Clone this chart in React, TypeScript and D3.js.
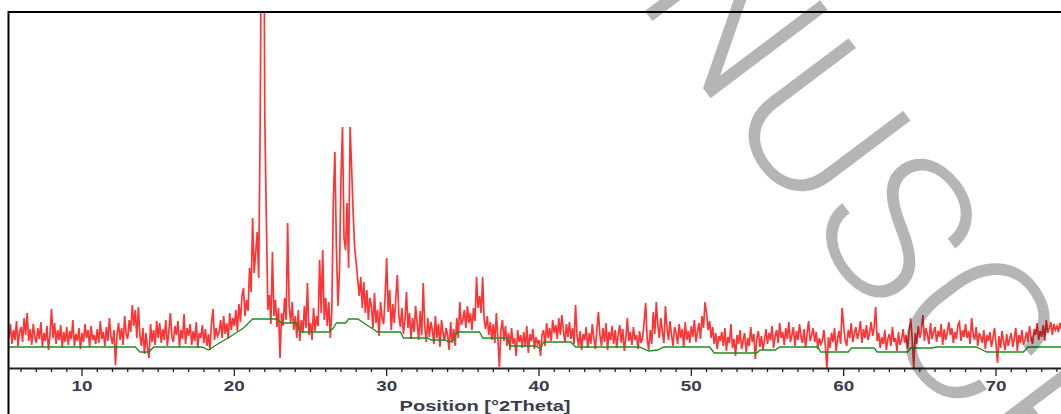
import React from "react";
import * as d3 from "d3";

// Scan start and step in °2Theta
const X_START = 5.2;
const X_STEP = 0.1;

const counts: number[] = [
  30, 44, 24, 38, 28, 47, 22, 36,
  41, 26, 50, 33, 55, 27, 39, 23, 44, 31,
  25, 40, 29, 46, 21, 35, 27, 42, 18, 33,
  59, 30, 45, 24, 38, 28, 43, 20, 36, 26,
  41, 23, 37, 29, 48, 22, 34, 27, 40, 19,
  35, 26, 44, 30, 38, 21, 42, 28, 33, 24,
  39, 25, 47, 29, 36, 22, 41, 27, 50, 31,
  24, 38, 3, 33, 45, 28, 40, 23, 52, 34,
  29, 48, 36, 63, 42, 58, 30, 61, 33, 22,
  40, 14, 35, 20, 10, 44, 26, 38, 23, 47,
  30, 45, 25, 39, 28, 48, 22, 36, 55, 31,
  26, 42, 33, 47, 21, 38, 29, 54, 24, 40,
  32, 44, 23, 37, 27, 46, 20, 35, 30, 43,
  25, 39, 22, 34, 18, 45, 59, 28, 40, 32,
  36, 48, 30, 52, 34, 45, 29, 55, 38, 50,
  42, 58, 37, 64, 46, 72, 80, 52, 68, 57,
  100, 76, 150, 95, 115, 136, 90, 250, 520, 600,
  250, 150, 58, 73, 44, 116, 52, 68, 41, 60,
  10, 55, 42, 70, 48, 145, 62, 45, 66, 38,
  52, 30, 58, 27, 48, 35, 62, 40, 85, 33,
  45, 28, 60, 37, 52, 42, 108, 55, 118, 48,
  70, 42, 66, 30, 58, 168, 216, 120, 62, 95,
  190, 241, 130, 118, 165, 100, 241, 200, 155, 120,
  105, 88, 72, 91, 60, 86, 55, 78, 48, 70,
  62, 40, 75, 45, 58, 32, 66, 50, 44, 72,
  110, 56, 78, 38, 64, 45, 70, 93, 52, 41,
  60, 34, 48, 76, 40, 55, 29, 50, 36, 62,
  45, 28, 57, 33, 85, 42, 26, 50, 31, 46,
  38, 24, 52, 30, 44, 21, 48, 35, 27, 40,
  33, 18, 46, 25, 39, 22, 50, 30, 66, 43,
  48, 58, 40, 62, 45, 55, 38, 60, 47, 91,
  60, 72, 55, 91, 48, 39, 52, 33, 46, 28,
  44, 25, 55, 30, 1, 38, 48, 27, 42, 22,
  35, 18, 40, 24, 30, 12, 38, 26, 33, 20,
  36, 21, 42, 15, 34, 27, 39, 19, 31, 24,
  28, 12, 33, 38, 22, 45, 30, 40, 27, 48,
  35, 43, 29, 50, 33, 53, 38, 26, 44, 31,
  46, 29, 40, 24, 63, 32, 22, 37, 18, 34,
  28, 41, 20, 35, 24, 44, 30, 19, 38, 56,
  33, 22, 40, 26, 45, 18, 36, 28, 42, 24,
  38, 20, 34, 43, 25, 39, 17, 30, 50, 27,
  36, 23, 41, 28, 33, 19, 37, 25, 30, 46,
  65, 29, 18, 38, 24, 56, 34, 66, 43, 30,
  50, 36, 25, 62, 40, 28, 47, 33, 22, 41,
  35, 24, 44, 30, 39, 21, 46, 28, 37, 25,
  42, 31, 48, 26, 36, 45, 29, 52, 40, 66,
  55, 38, 47, 30, 41, 24, 35, 19, 32, 27,
  36, 22, 40, 17, 31, 25, 44, 20, 29, 12,
  33, 24, 38, 19, 28, 35, 16, 30, 22, 41,
  26, 34, 9, 29, 37, 21, 32, 18, 27, 39,
  24, 35, 28, 42, 20, 31, 38, 25, 45, 30,
  36, 23, 40, 29, 46, 26, 33, 41, 22, 37,
  28, 44, 31, 25, 39, 20, 35, 47, 27, 33,
  40, 26, 36, 19, 30, 24, 27, 38, 22, 0,
  31, 20, 35, 26, 40, 17, 29, 37, 24, 60,
  42, 28, 22, 38, 30, 45, 26, 34, 41, 29,
  36, 47, 25, 39, 30, 43, 28, 35, 46, 32,
  40, 61, 27, 35, 20, 31, 24, 38, 18, 29,
  34, 22, 41, 26, 30, 17, 36, 23, 28, 39,
  25, 33, 19, 37, 50, 28, 0, 35, 24, 42,
  30, 38, 53, 27, 40, 33, 24, 45, 29, 36,
  41, 26, 37, 31, 44, 23, 39, 28, 35, 46,
  33, 40, 25, 36, 29, 43, 46, 27, 38, 31,
  44, 30, 37, 24, 50, 34, 28, 41, 22, 35,
  31, 25, 38, 19, 33, 27, 36, 21, 30, 40,
  24, 5, 32, 20, 37, 26, 18, 34, 22, 29,
  35, 21, 30, 40, 17, 33, 25, 38, 23, 28,
  36, 26, 42, 30, 24, 39, 33, 45, 28, 37,
  31, 43, 27, 48, 35, 40, 46, 33, 44, 38,
  42, 36, 45, 39,
];

// Fitted background (green), knots in °2Theta and counts
const bgPos: number[] = [
  5.2, 13.5, 13.8, 14.4, 14.7, 17.9, 18.3, 18.7, 19.9, 20.6, 21.0, 21.2, 22.8, 23.1,
  24.1, 24.3, 26.2, 26.5, 26.7, 27.3, 27.5, 28.1, 28.5, 29.0, 29.4, 30.9, 31.1, 32.7,
  32.9, 33.8, 34.1, 34.4, 34.6, 36.1, 36.3, 37.9, 38.1, 39.8, 40.1, 40.3, 42.1, 42.4,
  46.6, 47.2, 47.8, 48.2, 51.2, 51.5, 54.3, 54.5, 55.5, 55.8, 58.3, 58.5, 60.3, 60.5,
  62.0, 62.2, 64.2, 64.4, 65.8, 66.1, 68.7, 69.4, 71.8, 72.1, 74.3,
];
const bgCounts: number[] = [
  21, 21, 16, 16, 21, 21, 18, 22, 33, 40, 46, 49, 49, 45,
  45, 36, 36, 40, 45, 45, 49, 49, 45, 40, 36, 36, 30, 30,
  28, 28, 26, 28, 36, 36, 30, 30, 22, 22, 19, 26, 26, 21,
  21, 17, 18, 21, 21, 15, 15, 18, 18, 21, 21, 16, 16, 20,
  20, 16, 16, 20, 20, 21, 21, 16, 16, 21, 21,
];

const tickLabels: number[] = [10, 20, 30, 40, 50, 60, 70];
const xTitle = "Position [°2Theta]";
const watermark = "MANUSCRIPT";

export default function App() {
  const W = 1061;
  const H = 414;
  const left = 9;
  const right = 1061;
  const top = 12;
  const bottom = 368;

  const x = d3.scaleLinear().domain([10, 70]).range([82, 996]);
  const y = d3.scaleLinear().domain([0, 356]).range([bottom, top]);

  const dataLine = d3
    .line<number>()
    .x((_, i) => x(X_START + i * X_STEP))
    .y((d) => y(d));
  const bgLine = d3
    .line<number>()
    .x((_, i) => x(bgPos[i]))
    .y((d) => y(d));

  const minorTicks = d3.range(6, 75);
  const fontAxis = "'Liberation Sans', Arial, sans-serif";

  return (
    <svg
      width={W}
      height={H}
      style={{ position: "fixed", left: 0, top: 0, background: "#fff" }}
    >
      <defs>
        <clipPath id="plot">
          <rect x={left} y={top} width={right - left} height={bottom - top} />
        </clipPath>
      </defs>
      <rect x={0} y={0} width={W} height={H} fill="#fff" />

      <g clipPath="url(#plot)">
        <path
          d={dataLine(counts) || ""}
          fill="none"
          stroke="#ff1010"
          strokeWidth={1.7}
          strokeOpacity={0.85}
          strokeLinejoin="miter"
        />
        <path d={bgLine(bgCounts) || ""} fill="none" stroke="#1f8a1f" strokeWidth={1.3} />
      </g>

      {/* frame */}
      <line x1={8} x2={W} y1={12} y2={12} stroke="#000" strokeWidth={2} />
      <line x1={8.5} x2={8.5} y1={11} y2={H} stroke="#000" strokeWidth={2} />
      <line x1={8} x2={W} y1={368.5} y2={368.5} stroke="#222" strokeWidth={2} />

      {minorTicks.map((t) => (
        <line
          key={t}
          x1={x(t)}
          x2={x(t)}
          y1={369}
          y2={t % 10 === 0 ? 376 : 372}
          stroke="#222"
          strokeWidth={1.3}
        />
      ))}
      {tickLabels.map((t) => (
        <text
          key={t}
          x={x(t)}
          y={391}
          textAnchor="middle"
          fontFamily={fontAxis}
          fontWeight="bold"
          fontSize={14}
          fill="#3c3c4c"
          textLength={21}
          lengthAdjust="spacingAndGlyphs"
        >
          {t}
        </text>
      ))}
      <text
        x={485}
        y={411}
        textAnchor="middle"
        fontFamily={fontAxis}
        fontWeight="bold"
        fontSize={15}
        fill="#3c3c4c"
        textLength={171}
        lengthAdjust="spacingAndGlyphs"
      >
        {xTitle}
      </text>

      {/* watermark */}
      <text
        transform="translate(893,217) rotate(53)"
        textAnchor="middle"
        dy="0.36em"
        fontFamily="Roboto, 'Open Sans', sans-serif"
        fontWeight={300}
        fontSize={206}
        fill="#000"
        fillOpacity={0.29}
      >
        {watermark}
      </text>
    </svg>
  );
}
